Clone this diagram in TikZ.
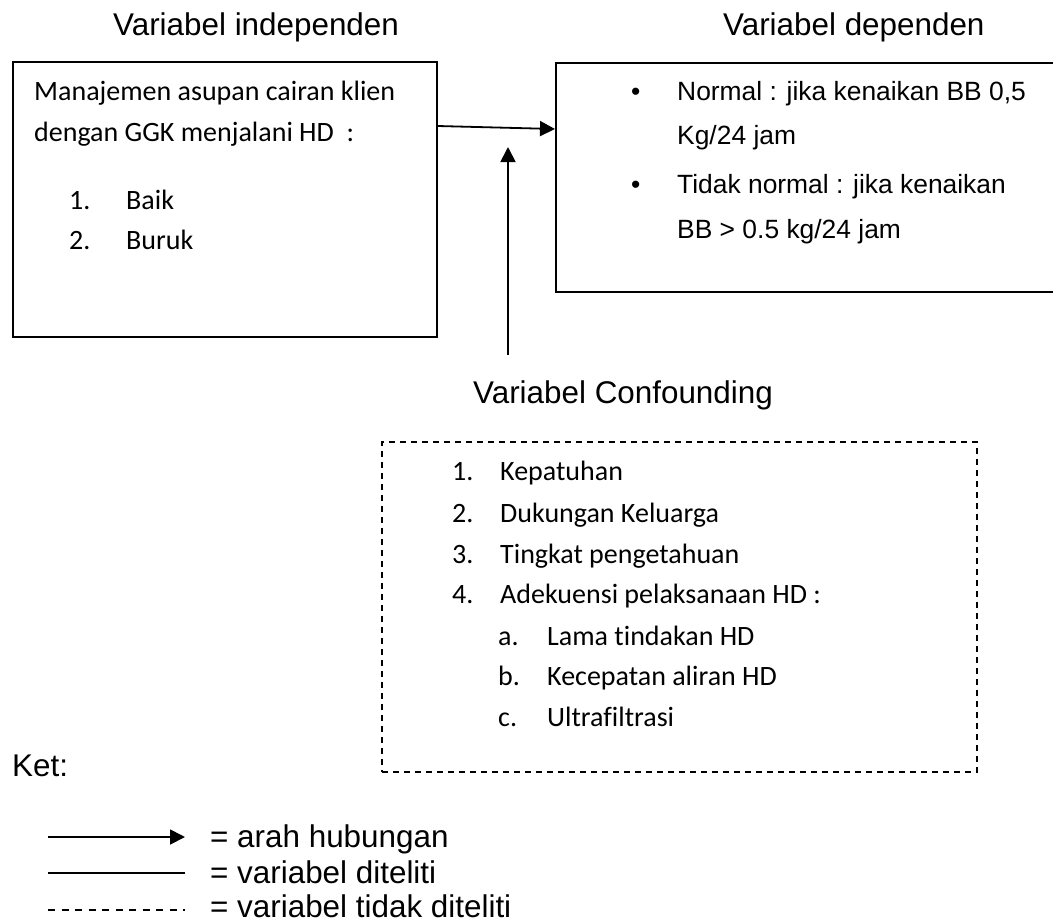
\documentclass[tikz,border=0pt]{standalone}
\usepackage{fontspec}
\setmainfont{Carlito}[Ligatures=NoCommon]
\newfontfamily\arialfont{Liberation Sans}
\usetikzlibrary{arrows.meta}
\usetikzlibrary{positioning}
\newcommand{\headfont}{\arialfont\fontsize{31.4pt}{38pt}\selectfont}
\newcommand{\depfont}{\arialfont\fontsize{26.4pt}{32pt}\selectfont}
\newcommand{\calfont}{\fontsize{28pt}{34pt}\selectfont}
\tikzset{varbox/.style = {draw, line width=1.8pt, anchor=north west, inner sep=0pt},
         dashbox/.style = {draw, line width=1.8pt, dash pattern=on 6pt off 5pt,
                           anchor=north west, inner sep=0pt},
         hubung/.style = {line width=1.8pt, -{Triangle[length=15pt,width=15pt]}},
         garis/.style = {line width=1.8pt},
         putus/.style = {line width=1.2pt, dash pattern=on 7pt off 6.5pt},
         headtxt/.style = {anchor=base west, inner sep=0pt, font=\headfont},
         deptxt/.style = {anchor=base west, inner sep=0pt, font=\depfont},
         caltxt/.style = {anchor=base west, inner sep=0pt, font=\calfont}}

\begin{document}
\begin{tikzpicture}[x=1pt, y=-1pt]
  \useasboundingbox (0,0) rectangle (1053,922);

  % judul
  \node [headtxt] (tindep) at (113,35) {Variabel independen};
  \node [headtxt] (tdep) at (723,35) {Variabel dependen};
  \node [headtxt] (tconf) at (473,403) {Variabel Confounding};

  % kotak
  \node [varbox, minimum width=424pt, minimum height=275pt] (indep) at (12,61) {};
  \node [varbox, minimum width=510pt, minimum height=229pt] (dep) at (555,62) {};
  \node [dashbox, minimum width=595pt, minimum height=330pt] (conf) at (381,441) {};

  % panah
  \draw [hubung] ([yshift=-65pt]indep.north east) -- ([yshift=-67pt]dep.north west);
  \coordinate (cbawah) at (508,355);
  \coordinate (cujung) at (508,147);
  \draw [hubung] (cbawah) -- (cujung);

  % isi variabel independen
  \node [caltxt] (ind1) at (34,100) {Manajemen asupan cairan klien};
  \node [caltxt] (ind2) at (34,141) {dengan GGK menjalani HD\ \ :};
  \foreach \n/\t/\y in {1/Baik/209, 2/Buruk/249} {
    \node [caltxt] (inum\n) at (69,\y) {\n.};
    \node [caltxt] (itxt\n) at (126,\y) {\t};
  }

  % isi variabel dependen
  \foreach \i/\y in {1/100, 2/193}
    \node [deptxt] (bul\i) at (631,\y) {•};
  \node [deptxt] (dep1) at (677,100) {Normal : jika kenaikan BB 0,5};
  \node [deptxt] (dep2) at (677,144) {Kg/24 jam};
  \node [deptxt] (dep3) at (677,193) {Tidak normal : jika kenaikan};
  \node [deptxt] (dep4) at (677,238) {BB > 0.5 kg/24 jam};

  % isi variabel confounding
  \foreach \n/\t/\y in {1/Kepatuhan/480, 2/Dukungan Keluarga/522,
                        3/Tingkat pengetahuan/563, 4/Adekuensi pelaksanaan HD :/603} {
    \node [caltxt] (cnum\n) at (452,\y) {\n.};
    \node [caltxt] (ctxt\n) at (500,\y) {\t};
  }
  \foreach \n/\t/\y in {a/Lama tindakan HD/645, b/Kecepatan aliran HD/685,
                        c/Ultrafiltrasi/726} {
    \node [caltxt] (snum\n) at (498,\y) {\n.};
    \node [caltxt] (stxt\n) at (547,\y) {\t};
  }

  % keterangan
  \node [headtxt] (ket) at (12,776) {Ket:};
  \coordinate (lka) at (48,837);  \coordinate (lkb) at (185,837);
  \coordinate (lsa) at (48,873);  \coordinate (lsb) at (185,873);
  \coordinate (lpa) at (48,910);  \coordinate (lpb) at (185,910);
  \draw [hubung] (lka) -- (lkb);
  \draw [garis] (lsa) -- (lsb);
  \draw [putus] (lpa) -- (lpb);
  \node [headtxt] (ket1) at (210,847) {= arah hubungan};
  \node [headtxt] (ket2) at (210,883) {= variabel diteliti};
  \node [headtxt] (ket3) at (210,917) {= variabel tidak diteliti};
\end{tikzpicture}
\end{document}
